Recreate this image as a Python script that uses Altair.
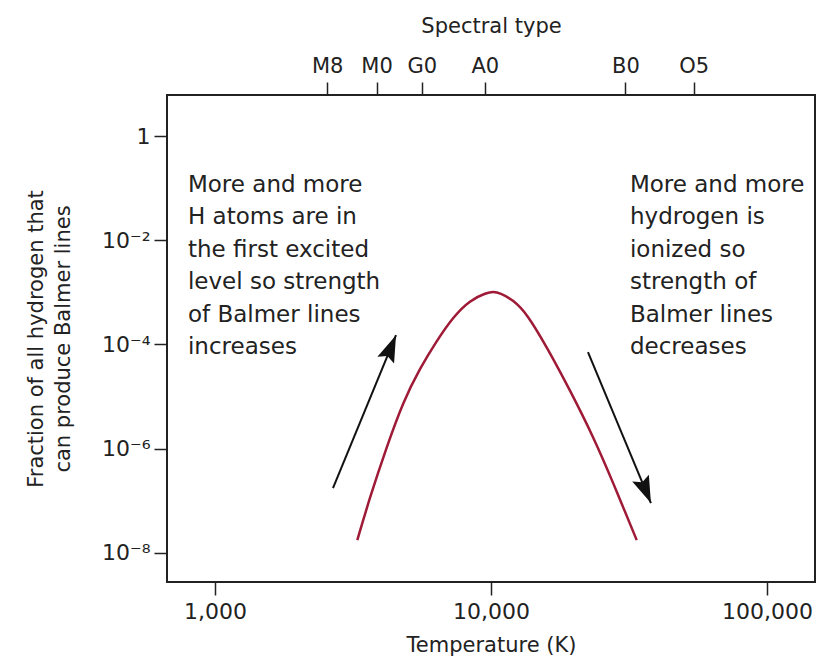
import altair as alt
import pandas as pd

FONT = "DejaVu Sans"
INK = "#222222"

# Balmer-line curve (temperature K, fraction of H able to produce Balmer lines)
curve_T = [3278, 3645, 4190, 4810, 5530, 6360, 7300, 8390, 9650, 10170,
           10780, 12040, 13470, 15910, 19330, 23490, 27750, 33730]
curve_F = [1.76e-8, 1.19e-7, 1.09e-6, 8.1e-6, 3.5e-5, 1.18e-4, 3.40e-4,
           7.11e-4, 9.82e-4, 1.035e-3, 9.82e-4, 7.11e-4, 3.95e-4, 9.04e-5,
           1.33e-5, 1.69e-6, 2.19e-7, 1.76e-8]

# spectral-type ticks on the top axis
spec_types = ["M8", "M0", "G0", "A0", "B0", "O5"]
spec_T = [2550, 3850, 5610, 9500, 30700, 54300]

# axis ticks
x_ticks = [1000, 10000, 100000]
y_ticks = [1, 1e-2, 1e-4, 1e-6, 1e-8]
y_labels = ["1", "10\u207b\u00b2", "10\u207b\u2074", "10\u207b\u2076", "10\u207b\u2078"]

# arrows: start (T, F) -> tip (T2, F2)
arrow_T = [2676, 22460]
arrow_F = [1.75e-7, 7.14e-5]
arrow_T2 = [4528, 37980]
arrow_F2 = [1.51e-4, 9.04e-8]
arrow_angle = [22.4, 157.4]

# annotations
note_T = [798, 31880]
note_F = [0.19, 0.19]
note_text = [
    "More and more\nH atoms are in\nthe first excited\nlevel so strength\nof Balmer lines\nincreases",
    "More and more\nhydrogen is\nionized so\nstrength of\nBalmer lines\ndecreases",
]

x_scale = alt.Scale(type="log", domain=[670, 149300], nice=False)
y_scale = alt.Scale(type="log", domain=[2.77e-9, 6.12], nice=False)

def ternary(vals, labs):
    expr = "''"
    for v, l in reversed(list(zip(vals, labs))):
        expr = f"abs(datum.value - {v!r}) < {abs(v) * 1e-6 + 1e-12!r} ? '{l}' : " + expr
    return expr

x_axis = alt.Axis(values=x_ticks, format=",", labelPadding=6, titlePadding=12)
y_axis = alt.Axis(values=y_ticks, labelExpr=ternary(y_ticks, y_labels),
                  labelPadding=4, titlePadding=28, titleFontSize=21,
                  titleLineHeight=27)

X_TITLE = "Temperature (K)"
Y_TITLE = ["Fraction of all hydrogen that", "can produce Balmer lines"]

curve_df = pd.DataFrame({"T": curve_T, "F": curve_F})
arrow_df = pd.DataFrame({"T": arrow_T, "F": arrow_F, "T2": arrow_T2,
                         "F2": arrow_F2, "angle": arrow_angle})
note_df = pd.DataFrame({"T": note_T, "F": note_F, "text": note_text})
spec_df = pd.DataFrame({"T": spec_T, "type": spec_types})

curve = alt.Chart(curve_df).mark_line(color="#9e1a36", strokeWidth=2.5,
                                      interpolate="basis").encode(
    x=alt.X("T:Q", scale=x_scale, axis=x_axis, title=X_TITLE),
    y=alt.Y("F:Q", scale=y_scale, axis=y_axis, title=Y_TITLE),
)

arrow_lines = alt.Chart(arrow_df).mark_rule(color="#111111", strokeWidth=2).encode(
    x=alt.X("T:Q", scale=x_scale, axis=None),
    y=alt.Y("F:Q", scale=y_scale, title=Y_TITLE),
    x2="T2:Q", y2="F2:Q",
)

arrow_heads = alt.Chart(arrow_df).mark_point(
    shape="M0,0L0.5,1.5L0,1.25L-0.5,1.5Z", filled=True, color="#111111",
    size=1300, opacity=1,
).encode(
    x=alt.X("T2:Q", scale=x_scale, axis=None),
    y=alt.Y("F2:Q", scale=y_scale, title=Y_TITLE),
    angle=alt.Angle("angle:Q", scale=None),
)

notes = alt.Chart(note_df).mark_text(
    align="left", baseline="top", font=FONT, fontSize=23, lineHeight=32.5,
    color=INK, lineBreak="\n",
).encode(
    x=alt.X("T:Q", scale=x_scale, axis=None),
    y=alt.Y("F:Q", scale=y_scale, title=Y_TITLE),
    text="text:N",
)

spec = alt.Chart(spec_df).mark_point(opacity=0).encode(
    x=alt.X("T:Q", scale=x_scale, title="Spectral type",
            axis=alt.Axis(orient="top", values=spec_T,
                          labelExpr=ternary(spec_T, spec_types),
                          labelFontSize=21, labelPadding=6, titlePadding=19)),
)

chart = alt.layer(curve, arrow_lines, arrow_heads, notes, spec).resolve_axis(
    x="independent"
).properties(
    width=648, height=487,
    autosize=alt.AutoSizeParams(type="none"),
    padding={"left": 167, "top": 95, "right": 5, "bottom": 82},
    background="white",
).configure_view(
    stroke="#222222", strokeWidth=2,
).configure_axis(
    domain=False, grid=False,
    labelFont=FONT, labelFontSize=22, labelColor=INK,
    titleFont=FONT, titleFontSize=21, titleFontWeight="normal", titleColor=INK,
    tickColor="#222222", tickSize=13, tickWidth=1.5,
)

chart.save("out.html", embed_options={"renderer": "svg", "actions": False})
